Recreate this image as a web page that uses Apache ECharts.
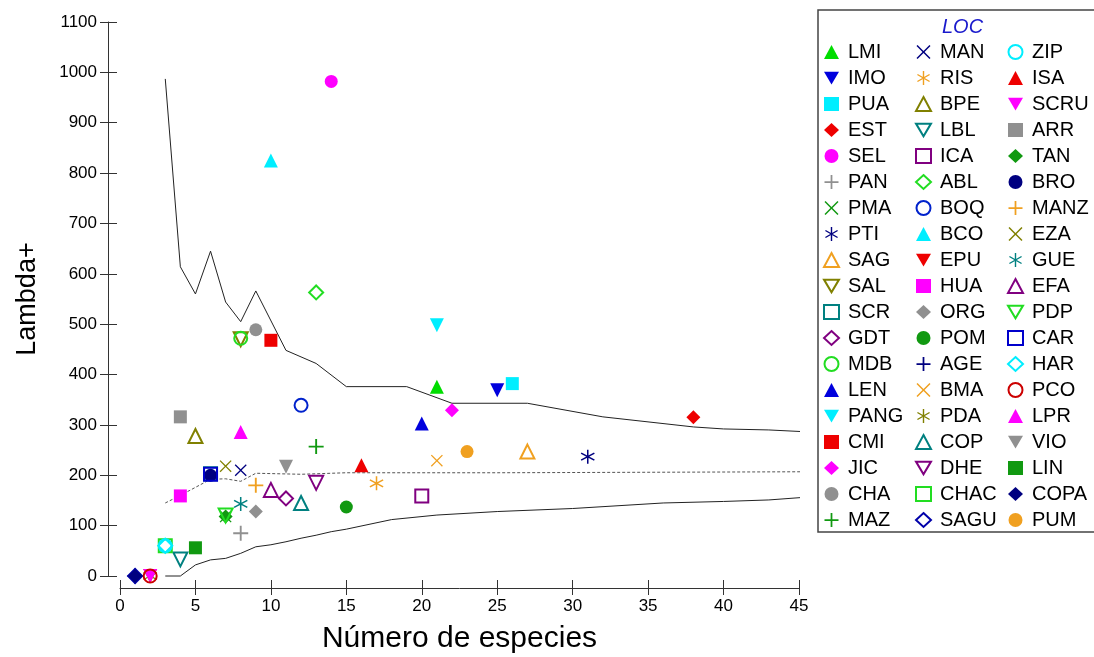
<!DOCTYPE html>
<html>
<head>
<meta charset="utf-8">
<script src="https://cdn.jsdelivr.net/npm/echarts@6/dist/echarts.min.js"></script>
<style>
html, body { margin: 0; padding: 0; background: #fff; }
#chart { width: 1094px; height: 657px; }
</style>
</head>
<body>
<div id="chart"></div>
<script>
// localidades, en el orden de la leyenda (por columnas)
var locs = ['LMI','IMO','PUA','EST','SEL','PAN','PMA','PTI','SAG','SAL','SCR','GDT','MDB','LEN','PANG','CMI','JIC','CHA','MAZ',
            'MAN','RIS','BPE','LBL','ICA','ABL','BOQ','BCO','EPU','HUA','ORG','POM','AGE','BMA','PDA','COP','DHE','CHAC','SAGU',
            'ZIP','ISA','SCRU','ARR','TAN','BRO','MANZ','EZA','GUE','EFA','PDP','CAR','HAR','PCO','LPR','VIO','LIN','COPA','PUM'];
var nEspecies = [21,25,26,38,14,8,7,31,27,8,6,11,8,20,21,10,22,9,13,
                 8,17,5,4,20,13,12,10,2,4,9,15,1,21,2,12,13,3,1,
                 3,16,2,4,7,6,9,7,8,10,7,6,3,2,8,11,5,1,23];
var lambdaMas = [376,369,382,315,982,85,118,237,247,470,203,154,472,303,498,468,329,489,257,
                 210,184,278,33,159,563,339,825,0,159,128,137,0,229,0,145,185,60,0,
                 60,220,0,316,118,200,180,218,143,171,120,202,60,0,286,217,56,0,247];

// embudo de confianza y media esperada
var supX = [3,4,5,6,7,8,9,11,13,15,19,22,27,32,38,40,43,45.7];
var supY = [987,614,560,645,544,505,566,448,422,376,376,343,343,316,296,292,290,286];
var infX = [3,4,5,6,7,8,9,10,11,12,13,14,15,18,21,25,30,36,40,43,45.7];
var infY = [0,0,22,32,35,45,58,62,68,75,81,88,93,112,121,128,134,145,148,151,157];
var medX = [3,4,5,6,7,8,9,12,15,25,45.7];
var medY = [145,160,176,192,193,188,204,202,205,205,207];

var FONT = 'Liberation Sans, Arial, sans-serif';

var FORMAS = {
    tri: 'triangle',
    dtri: 'path://M0,0L20,0L10,17Z',
    sq: 'rect',
    dia: 'diamond',
    circ: 'circle',
    plus: 'path://M8.75,0H11.25V8.75H20V11.25H11.25V20H8.75V11.25H0V8.75H8.75Z',
    cross: 'path://M0,1.5L1.5,0L10,8.5L18.5,0L20,1.5L11.5,10L20,18.5L18.5,20L10,11.5L1.5,20L0,18.5L8.5,10Z',
    star: 'path://M9,0L11,0L11,20L9,20Z M0.84,14.13L18.16,4.13L19.16,5.87L1.84,15.87Z M1.84,4.13L19.16,14.13L18.16,15.87L0.84,5.87Z'
};
var TAM = { tri: 14, dtri: 14, sq: 13, dia: 14, circ: 13, plus: 15, cross: 12, star: 14 };

// [forma, color, hueco]
var estilo = {
    LMI: ['tri', '#00dd00'], IMO: ['dtri', '#0000dd'], PUA: ['sq', '#00eeff'], EST: ['dia', '#ee0000'],
    SEL: ['circ', '#ff00ff'], PAN: ['plus', '#909090'], PMA: ['cross', '#119911'], PTI: ['star', '#000080'],
    SAG: ['tri', '#f0a020', 1], SAL: ['dtri', '#808000', 1], SCR: ['sq', '#008080', 1], GDT: ['dia', '#800080', 1],
    MDB: ['circ', '#22dd22', 1], LEN: ['tri', '#0000dd'], PANG: ['dtri', '#00eeff'], CMI: ['sq', '#ee0000'],
    JIC: ['dia', '#ff00ff'], CHA: ['circ', '#909090'], MAZ: ['plus', '#119911'],
    MAN: ['cross', '#000080'], RIS: ['star', '#f0a020'], BPE: ['tri', '#808000', 1], LBL: ['dtri', '#008080', 1],
    ICA: ['sq', '#800080', 1], ABL: ['dia', '#22dd22', 1], BOQ: ['circ', '#0022cc', 1], BCO: ['tri', '#00eeff'],
    EPU: ['dtri', '#ee0000'], HUA: ['sq', '#ff00ff'], ORG: ['dia', '#909090'], POM: ['circ', '#119911'],
    AGE: ['plus', '#000080'], BMA: ['cross', '#f0a020'], PDA: ['star', '#808000'], COP: ['tri', '#008080', 1],
    DHE: ['dtri', '#800080', 1], CHAC: ['sq', '#22dd22', 1], SAGU: ['dia', '#0000aa', 1],
    ZIP: ['circ', '#00eeff', 1], ISA: ['tri', '#ee0000'], SCRU: ['dtri', '#ff00ff'], ARR: ['sq', '#909090'],
    TAN: ['dia', '#119911'], BRO: ['circ', '#000080'], MANZ: ['plus', '#f0a020'], EZA: ['cross', '#808000'],
    GUE: ['star', '#008080'], EFA: ['tri', '#800080', 1], PDP: ['dtri', '#22dd22', 1], CAR: ['sq', '#0000cc', 1],
    HAR: ['dia', '#00eeff', 1], PCO: ['circ', '#cc0000', 1], LPR: ['tri', '#ff00ff'], VIO: ['dtri', '#909090'],
    LIN: ['sq', '#119911'], COPA: ['dia', '#000080'], PUM: ['circ', '#f0a020']
};

function zip(xs, ys) {
    var out = [];
    for (var i = 0; i < xs.length; i++) out.push([xs[i], ys[i]]);
    return out;
}

var series = [
    { type: 'line', data: zip(supX, supY), showSymbol: false, silent: true, clip: false, z: 1,
      lineStyle: { color: '#222', width: 1 } },
    { type: 'line', data: zip(infX, infY), showSymbol: false, silent: true, clip: false, z: 1,
      lineStyle: { color: '#222', width: 1 } },
    { type: 'line', data: zip(medX, medY), showSymbol: false, silent: true, clip: false, z: 1,
      lineStyle: { color: '#555', width: 1, type: [3, 2] } }
];

locs.forEach(function (name, i) {
    var e = estilo[name];
    var hueco = e[2] === 1;
    series.push({
        name: name,
        type: 'scatter',
        z: 3,
        symbol: FORMAS[e[0]],
        symbolSize: TAM[e[0]],
        data: [[nEspecies[i], lambdaMas[i]]],
        itemStyle: hueco
            ? { color: 'rgba(255,255,255,0)', borderColor: e[1], borderWidth: 2, opacity: 1 }
            : { color: e[1], opacity: 1 }
    });
});

var lineaEje = { show: true, onZero: false, lineStyle: { color: '#333', width: 1 } };
var lineaOculta = { show: true, onZero: false, lineStyle: { color: '#333', width: 1, opacity: 0 } };

var chart = echarts.init(document.getElementById('chart'));
chart.setOption({
    animation: false,
    backgroundColor: '#fff',
    title: {
        text: 'LOC', left: 937, top: 12,
        textStyle: { fontFamily: FONT, fontSize: 20, fontStyle: 'italic', fontWeight: 'normal', color: '#1a1acc' }
    },
    grid: { left: 120, right: 295, top: 22, bottom: 81, outerBoundsMode: 'none' },
    legend: {
        orient: 'vertical', left: 823, top: 42, height: 495, padding: 0,
        itemGap: 6, itemWidth: 15, itemHeight: 14, selectedMode: false,
        textStyle: { fontFamily: FONT, fontSize: 20, color: '#000', width: 61, lineHeight: 20, padding: [0, 0, 0, 4] },
        data: locs
    },
    graphic: [{
        type: 'rect', shape: { x: 818, y: 10, width: 300, height: 522 },
        style: { fill: 'none', stroke: '#444', lineWidth: 1.5 }, z: -1
    }],
    xAxis: [
        {
            type: 'value', min: 0, max: 45, interval: 5, position: 'bottom', offset: 12,
            axisLine: lineaEje, splitLine: { show: false },
            axisTick: { show: true, length: 7, lineStyle: { color: '#333' } },
            axisLabel: { fontFamily: FONT, fontSize: 17, color: '#000', margin: 10 },
            name: 'Número de especies', nameLocation: 'middle', nameGap: 36,
            nameTextStyle: { fontFamily: FONT, fontSize: 30, color: '#000' }
        },
        {
            type: 'value', min: 0, max: 45, interval: 5, position: 'bottom', offset: 12,
            axisLine: lineaOculta, axisLabel: { show: false }, splitLine: { show: false },
            axisTick: { show: true, inside: true, length: 8, lineStyle: { color: '#333' } }
        }
    ],
    yAxis: [
        {
            type: 'value', min: 0, max: 1100, interval: 100, position: 'left', offset: 12,
            axisLine: lineaEje, splitLine: { show: false },
            axisTick: { show: true, length: 8, lineStyle: { color: '#333' } },
            axisLabel: { fontFamily: FONT, fontSize: 17, color: '#000', margin: 11,
                         formatter: function (v) { return String(v); } },
            name: 'Lambda+', nameLocation: 'middle', nameGap: 67,
            nameTextStyle: { fontFamily: FONT, fontSize: 27, color: '#000' }
        },
        {
            type: 'value', min: 0, max: 1100, interval: 100, position: 'left', offset: 12,
            axisLine: lineaOculta, axisLabel: { show: false }, splitLine: { show: false },
            axisTick: { show: true, inside: true, length: 9, lineStyle: { color: '#333' } }
        }
    ],
    series: series
});
</script>
</body>
</html>
